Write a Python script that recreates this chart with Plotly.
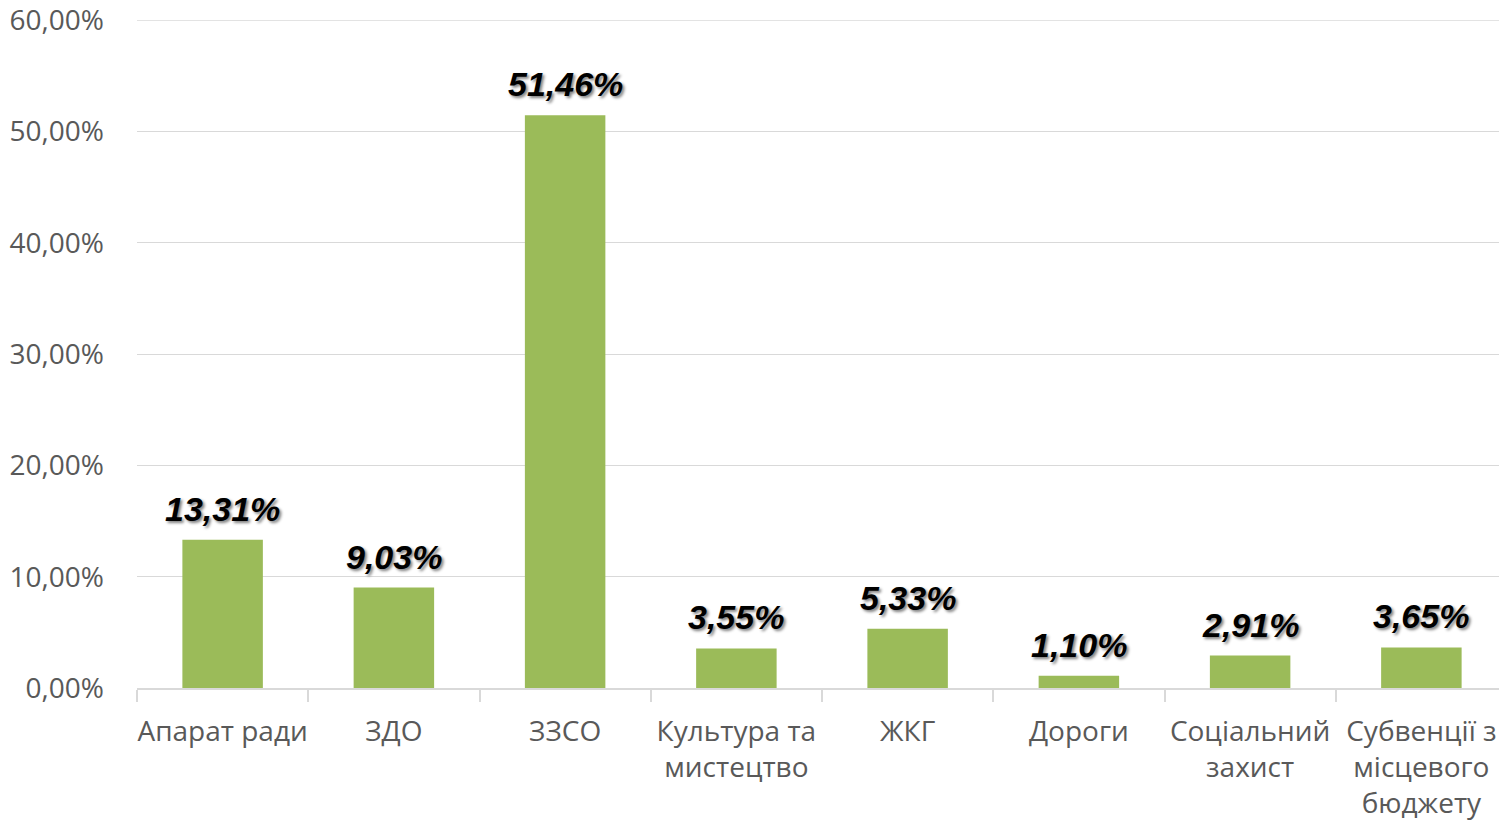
import plotly.graph_objects as go

categories = ["Апарат ради", "ЗДО", "ЗЗСО", "Культура та<br>мистецтво", "ЖКГ",
              "Дороги", "Соціальний<br>захист", "Субвенції з<br>місцевого<br>бюджету"]
shares = [13.31, 9.03, 51.46, 3.55, 5.33, 1.10, 2.91, 3.65]
y_ticks = [0, 10, 20, 30, 40, 50, 60]
y_tick_text = ["0,00%", "10,00%", "20,00%", "30,00%", "40,00%", "50,00%", "60,00%"]

fig = go.Figure()

fig.add_trace(go.Bar(
    x=categories, y=shares,
    marker=dict(color="#9BBB59", line=dict(width=0)),
    width=0.47,
))

# data labels
for cat, val in zip(categories, shares):
    fig.add_annotation(
        x=cat, y=val, text=f"{val:.2f}%".replace(".", ","),
        showarrow=False, yanchor="middle", yshift=31,
        font=dict(family="Liberation Sans", size=34, color="#000000",
                  weight="bold", style="italic",
                  shadow="2px 2px 3px #808080"),
    )

# top gridline (plotly drops the one at the range edge)
fig.add_shape(type="line", xref="paper", x0=0, x1=1, yref="y",
              y0=y_ticks[-1], y1=y_ticks[-1],
              line=dict(color="#d9d9d9", width=1), layer="below")

fig.update_layout(
    width=1499, height=816,
    margin=dict(l=129, r=0, t=12, b=136),
    plot_bgcolor="white", paper_bgcolor="white",
    showlegend=False,
    font=dict(family="Open Sans", color="#595959"),
    xaxis=dict(
        automargin=False, tickangle=0,
        showline=True, linecolor="#d9d9d9", linewidth=2,
        ticks="outside", tickson="boundaries", ticklen=12,
        tickcolor="#d9d9d9", tickwidth=2, ticklabelstandoff=17,
        tickfont=dict(size=28, color="#595959"),
    ),
    yaxis=dict(
        automargin=False, ticklabeloverflow="allow",
        range=[0, 60.02], tickvals=y_ticks, ticktext=y_tick_text,
        showgrid=True, gridcolor="#d9d9d9", gridwidth=1,
        zeroline=False, ticks="", ticklabelstandoff=32,
        tickfont=dict(size=28, color="#595959"),
    ),
)

fig.write_html("out.html")
